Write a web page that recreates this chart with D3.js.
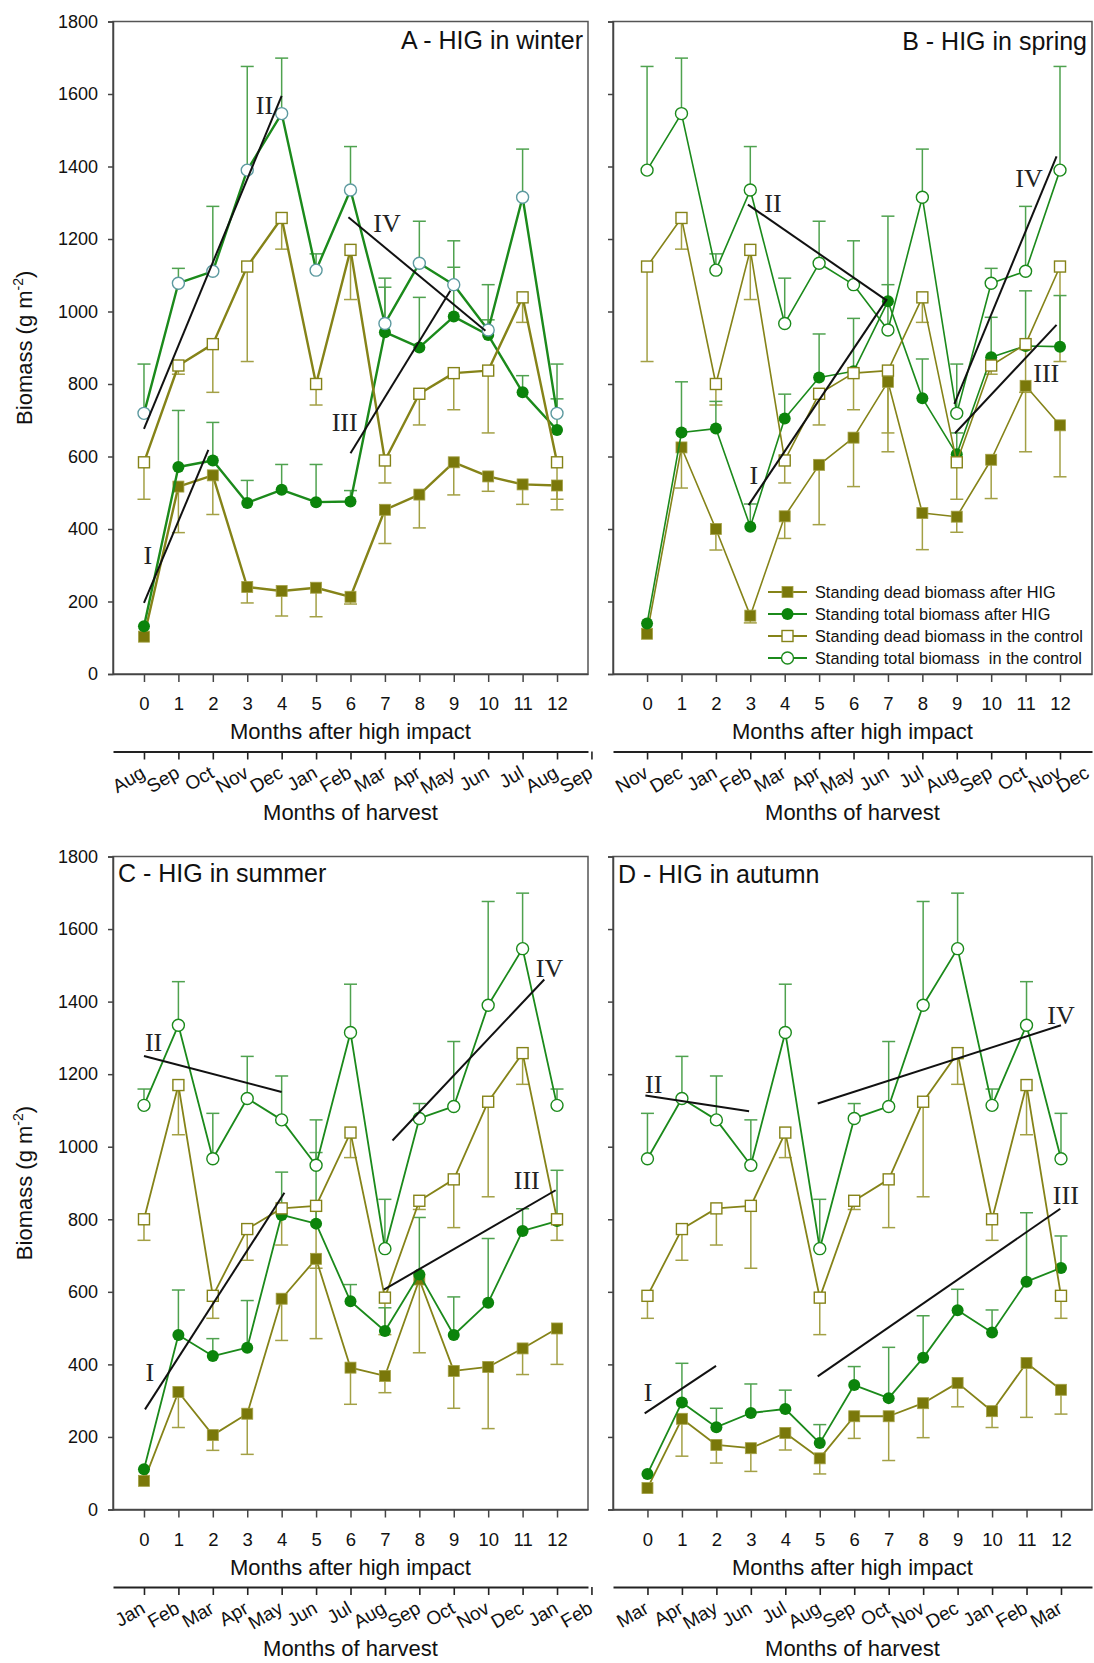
<!DOCTYPE html>
<html>
<head>
<meta charset="utf-8">
<script src="https://cdn.jsdelivr.net/npm/d3@7/dist/d3.min.js"></script>
<style>
  body { margin: 0; background: #fff; }
  svg { display: block; font-family: "Liberation Sans", Arial, sans-serif; }
</style>
</head>
<body>
<div id="chart"></div>
<script>
// months after the high impact grazing (x axis)
const monthsAfter = [0, 1, 2, 3, 4, 5, 6, 7, 8, 9, 10, 11, 12];
const yTicks = [0, 200, 400, 600, 800, 1000, 1200, 1400, 1600, 1800];

// control plots, by calendar month Jan..Dec
const ctrlTotal    = [1114, 1335, 967, 1133, 1074, 949, 1315, 719, 1078, 1111, 1390, 1546];
const ctrlTotalUp  = [1159, 1455, 1092, 1249, 1195, 1074, 1448, 855, 1119, 1290, 1676, 1699];
const ctrlDead     = [800, 1170, 589, 773, 830, 837, 1039, 584, 851, 910, 1124, 1258];
const ctrlDeadLow  = [742, 1033, 527, 687, 729, 665, 970, 482, 827, 777, 862, 1172];

// A - winter
const deadA    = [103, 517, 548, 240, 229, 238, 213, 453, 495, 584, 545, 523, 520];
const deadALow = [null, 390, 440, 196, 160, 158, 193, 360, 403, 494, 504, 468, 453];
const totalA   = [132, 571, 589, 472, 508, 474, 476, 943, 901, 986, 935, 777, 673];
const totalAUp = [null, 727, 694, 534, 578, 578, 506, 1067, 1039, 1122, 977, 823, 759];
const harvestA = ["Aug","Sep","Oct","Nov","Dec","Jan","Feb","Mar","Apr","May","Jun","Jul","Aug","Sep"];

// B - spring
const deadB    = [111, 625, 400, 161, 435, 577, 652, 806, 444, 434, 591, 795, 686];
const deadBLow = [null, 513, 342, 141, 374, 412, 517, 613, 343, 391, 484, 613, 544];
const totalB   = [139, 666, 677, 406, 705, 818, 835, 1028, 761, 606, 874, 905, 903];
const totalBUp = [null, 806, 752, 469, 772, 938, 981, 1263, 869, 665, 984, 1057, 1044];
const harvestB = ["Nov","Dec","Jan","Feb","Mar","Apr","May","Jun","Jul","Aug","Sep","Oct","Nov","Dec"];

// C - summer
const deadC    = [79, 324, 205, 264, 581, 691, 391, 368, 634, 382, 393, 444, 499];
const deadCLow = [null, 226, 163, 152, 466, 471, 290, 322, 432, 279, 223, 372, 400];
const totalC   = [111, 481, 423, 446, 812, 788, 574, 492, 648, 481, 570, 768, 795];
const totalCUp = [null, 605, 471, 576, 930, 984, 620, 556, 805, 586, 747, 829, 935];
const harvestC = ["Jan","Feb","Mar","Apr","May","Jun","Jul","Aug","Sep","Oct","Nov","Dec","Jan","Feb"];

// D - autumn
const deadD    = [59, 250, 178, 169, 211, 141, 257, 257, 293, 349, 271, 404, 330];
const deadDLow = [null, 147, 128, 105, 164, 98, 196, 135, 198, 283, 226, 254, 263];
const totalD   = [98, 295, 227, 266, 277, 183, 343, 307, 418, 549, 488, 628, 666];
const totalDUp = [null, 403, 279, 346, 329, 234, 394, 447, 534, 607, 550, 818, 754];
const harvestD = ["Mar","Apr","May","Jun","Jul","Aug","Sep","Oct","Nov","Dec","Jan","Feb","Mar"];

// regression lines I-IV: [x1, y1, x2, y2], label at [x, y]
const trendsA = [
  {id: "I",   seg: [0, 196, 1.87, 618],   at: [0.11, 304]},
  {id: "II",  seg: [0, 676, 4.0, 1595],   at: [3.5, 1544]},
  {id: "III", seg: [6.0, 609, 8.9, 1057], at: [5.83, 671]},
  {id: "IV",  seg: [5.94, 1260, 9.92, 947], at: [7.06, 1220]}
];
const trendsB = [
  {id: "I",   seg: [2.95, 466, 6.97, 1034], at: [3.1, 524]},
  {id: "II",  seg: [2.93, 1295, 6.97, 1030], at: [3.66, 1274]},
  {id: "III", seg: [8.95, 664, 11.9, 963],  at: [11.6, 805]},
  {id: "IV",  seg: [8.93, 745, 11.9, 1428], at: [11.1, 1343]}
];
const trendsC = [
  {id: "I",   seg: [0.03, 276, 4.08, 873],  at: [0.17, 354]},
  {id: "II",  seg: [0, 1250, 4.0, 1151],    at: [0.28, 1263]},
  {id: "III", seg: [6.97, 606, 11.96, 880], at: [11.12, 883]},
  {id: "IV",  seg: [7.22, 1017, 11.63, 1461], at: [11.78, 1467]}
];
const trendsD = [
  {id: "I",   seg: [-0.08, 265, 1.99, 396], at: [0.02, 298]},
  {id: "II",  seg: [-0.06, 1141, 2.95, 1098], at: [0.18, 1149]},
  {id: "III", seg: [4.94, 367, 11.98, 829], at: [12.14, 843]},
  {id: "IV",  seg: [4.94, 1119, 12.0, 1335], at: [12.0, 1338]}
];

const legendItems = [
  {label: "Standing dead biomass after HIG", kind: "deadHig"},
  {label: "Standing total biomass after HIG", kind: "totalHig"},
  {label: "Standing dead biomass in the control", kind: "deadCtrl"},
  {label: "Standing total biomass  in the control", kind: "totalCtrl"}
];

const col = {
  oliveFill: "#7a780a",
  oliveLine: "#858318",
  oliveLight: "#a3a045",
  greenFill: "#0b840b",
  greenLine: "#1b8a1b",
  greenLight: "#4fa24f"
};

const W = 1094, H = 1663;
const svg = d3.select("#chart").append("svg").attr("width", W).attr("height", H);

const panels = [
  {title: "A - HIG in winter", x0: 113, x1: 588, y0: 21.5, y1: 674, dom: [-0.9, 12.9], yLabels: true,
   titleX: 583, titleY: 49, anchor: "end", start: 7, dead: deadA, deadLow: deadALow, total: totalA, totalUp: totalAUp,
   harvest: harvestA, trends: trendsA, ringColor: "#5d9aa0", lw: 2.4},
  {title: "B - HIG in spring", x0: 613, x1: 1092, y0: 21.5, y1: 674, dom: [-0.99, 12.93], yLabels: false,
   titleX: 1087, titleY: 50, anchor: "end", start: 10, dead: deadB, deadLow: deadBLow, total: totalB, totalUp: totalBUp,
   harvest: harvestB, trends: trendsB, ringColor: col.greenLine, lw: 1.6, legend: true},
  {title: "C - HIG in summer", x0: 113, x1: 588, y0: 856.5, y1: 1509.5, dom: [-0.9, 12.9], yLabels: true,
   titleX: 118, titleY: 882, anchor: "start", start: 0, dead: deadC, deadLow: deadCLow, total: totalC, totalUp: totalCUp,
   harvest: harvestC, trends: trendsC, ringColor: col.greenLine, lw: 1.8},
  {title: "D - HIG in autumn", x0: 613, x1: 1092, y0: 856.5, y1: 1509.5, dom: [-1.0, 12.9], yLabels: false,
   titleX: 618, titleY: 883, anchor: "start", start: 2, dead: deadD, deadLow: deadDLow, total: totalD, totalUp: totalDUp,
   harvest: harvestD, trends: trendsD, ringColor: col.greenLine, lw: 1.8}
];

function drawMarker(sel, kind, ring) {
  if (kind === "deadHig") {
    sel.append("rect").attr("x", -5.5).attr("y", -5.5).attr("width", 11).attr("height", 11)
      .attr("fill", col.oliveFill).attr("stroke", col.oliveLight).attr("stroke-width", 0.8);
  } else if (kind === "totalHig") {
    sel.append("circle").attr("r", 6).attr("fill", col.greenFill);
  } else if (kind === "deadCtrl") {
    sel.append("rect").attr("x", -5.5).attr("y", -5.5).attr("width", 11).attr("height", 11)
      .attr("fill", "#fff").attr("stroke", col.oliveLine).attr("stroke-width", 1.4);
  } else {
    sel.append("circle").attr("r", 6).attr("fill", "#fff").attr("stroke", ring).attr("stroke-width", 1.4);
  }
}

function drawPanel(p) {
  const x = d3.scaleLinear().domain(p.dom).range([p.x0, p.x1]);
  const y = d3.scaleLinear().domain([0, 1800]).range([p.y1, p.y0]);
  const g = svg.append("g");

  const cT = monthsAfter.map(i => ctrlTotal[(p.start + i) % 12]);
  const cTUp = monthsAfter.map(i => ctrlTotalUp[(p.start + i) % 12]);
  const cD = monthsAfter.map(i => ctrlDead[(p.start + i) % 12]);
  const cDLow = monthsAfter.map(i => ctrlDeadLow[(p.start + i) % 12]);

  // frame
  g.append("rect")
    .attr("x", p.x0).attr("y", p.y0)
    .attr("width", p.x1 - p.x0).attr("height", p.y1 - p.y0)
    .attr("fill", "none").attr("stroke", "#555").attr("stroke-width", 1.5);

  // y axis
  const yAxis = d3.axisLeft(y).tickValues(yTicks).tickSize(5).tickPadding(10)
    .tickFormat(p.yLabels ? d3.format("d") : () => "");
  const ya = g.append("g").attr("transform", `translate(${p.x0},0)`).call(yAxis)
    .attr("font-size", 18).attr("font-family", null);
  ya.select(".domain").attr("stroke", "#444").attr("stroke-width", 1.5);
  ya.selectAll("line").attr("stroke", "#444").attr("stroke-width", 1.5);
  ya.selectAll("text").attr("fill", "#111");

  // x axis (months after high impact)
  const xAxis = d3.axisBottom(x).tickValues(monthsAfter).tickSize(8).tickPadding(15).tickSizeOuter(0);
  const xa = g.append("g").attr("transform", `translate(0,${p.y1})`).call(xAxis)
    .attr("font-size", 18.5).attr("font-family", null);
  xa.select(".domain").attr("stroke", "#444").attr("stroke-width", 1.5);
  xa.selectAll("line").attr("stroke", "#444").attr("stroke-width", 1.5);
  xa.selectAll("text").attr("fill", "#111");

  g.append("text")
    .attr("x", (p.x0 + p.x1) / 2).attr("y", p.y1 + 65)
    .attr("text-anchor", "middle").attr("font-size", 22).attr("fill", "#111")
    .text("Months after high impact");

  // second axis (months of harvest)
  const hAxis = d3.axisBottom(x).tickValues(d3.range(p.harvest.length)).tickSize(8).tickSizeOuter(0)
    .tickFormat(i => p.harvest[i]);
  const ha = g.append("g").attr("transform", `translate(0,${p.y1 + 77.5})`).call(hAxis)
    .attr("font-size", 19).attr("font-family", null);
  ha.select(".domain").attr("stroke", "#222").attr("stroke-width", 2);
  ha.selectAll("line").attr("stroke", "#222").attr("stroke-width", 1.6);
  ha.selectAll("text")
    .attr("x", 0).attr("y", 0).attr("dy", 0)
    .attr("text-anchor", "end").attr("fill", "#111")
    .attr("transform", function (i) {
      // keep the last label inside the page edge
      const px = Math.min(2, W - 4 - x(i));
      return `translate(${px},25) rotate(-30)`;
    });

  g.append("text")
    .attr("x", (p.x0 + p.x1) / 2).attr("y", p.y1 + 146)
    .attr("text-anchor", "middle").attr("font-size", 22).attr("fill", "#111")
    .text("Months of harvest");

  if (p.yLabels) {
    const cy = (p.y0 + p.y1) / 2;
    const t = g.append("text")
      .attr("transform", `translate(32,${cy}) rotate(-90)`)
      .attr("text-anchor", "middle").attr("font-size", 22).attr("fill", "#111");
    t.append("tspan").text("Biomass (g m");
    t.append("tspan").attr("dy", -9).attr("font-size", 14).text("-2");
    t.append("tspan").attr("dy", 9).text(")");
  }

  // error bars
  function bars(vals, ends, color) {
    const d = monthsAfter.filter(i => ends[i] != null);
    const eb = g.append("g").attr("stroke", color).attr("stroke-width", 1.5).attr("fill", "none");
    eb.selectAll("line.v").data(d).join("line").attr("class", "v")
      .attr("x1", i => x(i)).attr("x2", i => x(i))
      .attr("y1", i => y(vals[i])).attr("y2", i => y(ends[i]));
    eb.selectAll("line.c").data(d).join("line").attr("class", "c")
      .attr("x1", i => x(i) - 6.5).attr("x2", i => x(i) + 6.5)
      .attr("y1", i => y(ends[i])).attr("y2", i => y(ends[i]));
  }
  bars(cT, cTUp, col.greenLight);
  bars(cD, cDLow, col.oliveLight);
  bars(p.total, p.totalUp, col.greenLight);
  bars(p.dead, p.deadLow, col.oliveLight);

  const line = vals => d3.line().x(i => x(i)).y(i => y(vals[i]))(monthsAfter);

  function series(vals, color, width, kind) {
    g.append("path").attr("d", line(vals)).attr("fill", "none")
      .attr("stroke", color).attr("stroke-width", width).attr("stroke-linejoin", "round");
    g.append("g").selectAll("g").data(monthsAfter).join("g")
      .attr("transform", i => `translate(${x(i)},${y(vals[i])})`)
      .each(function () { drawMarker(d3.select(this), kind, p.ringColor); });
  }
  series(p.dead, col.oliveLine, p.lw, "deadHig");
  series(p.total, col.greenLine, p.lw, "totalHig");
  series(cD, col.oliveLine, p.lw, "deadCtrl");
  series(cT, col.greenLine, p.lw, "totalCtrl");

  // regression lines
  const tr = g.append("g");
  tr.selectAll("line").data(p.trends).join("line")
    .attr("x1", d => x(d.seg[0])).attr("y1", d => y(d.seg[1]))
    .attr("x2", d => x(d.seg[2])).attr("y2", d => y(d.seg[3]))
    .attr("stroke", "#111").attr("stroke-width", 2);
  tr.selectAll("text").data(p.trends).join("text")
    .attr("x", d => x(d.at[0])).attr("y", d => y(d.at[1]))
    .attr("text-anchor", "middle")
    .attr("font-family", "'Liberation Serif', 'Times New Roman', serif")
    .attr("font-size", 26).attr("fill", "#222")
    .text(d => d.id);

  // panel title
  g.append("text")
    .attr("x", p.titleX).attr("y", p.titleY)
    .attr("text-anchor", p.anchor).attr("font-size", 25).attr("fill", "#111")
    .text(p.title);

  if (p.legend) {
    const lg = g.append("g");
    const rows = lg.selectAll("g").data(legendItems).join("g")
      .attr("transform", (d, i) => `translate(768,${592 + i * 22})`);
    rows.append("line").attr("x1", 0).attr("x2", 39).attr("y1", 0).attr("y2", 0)
      .attr("stroke", d => d.kind.startsWith("dead") ? col.oliveLine : col.greenLine)
      .attr("stroke-width", 1.8);
    rows.append("g").attr("transform", "translate(19.5,0)")
      .each(function (d) { drawMarker(d3.select(this), d.kind, col.greenLine); });
    rows.append("text").attr("x", 47).attr("y", 5.5)
      .attr("font-size", 16.3).attr("fill", "#111")
      .style("white-space", "pre")
      .text(d => d.label);
  }
}

panels.forEach(drawPanel);
</script>
</body>
</html>
